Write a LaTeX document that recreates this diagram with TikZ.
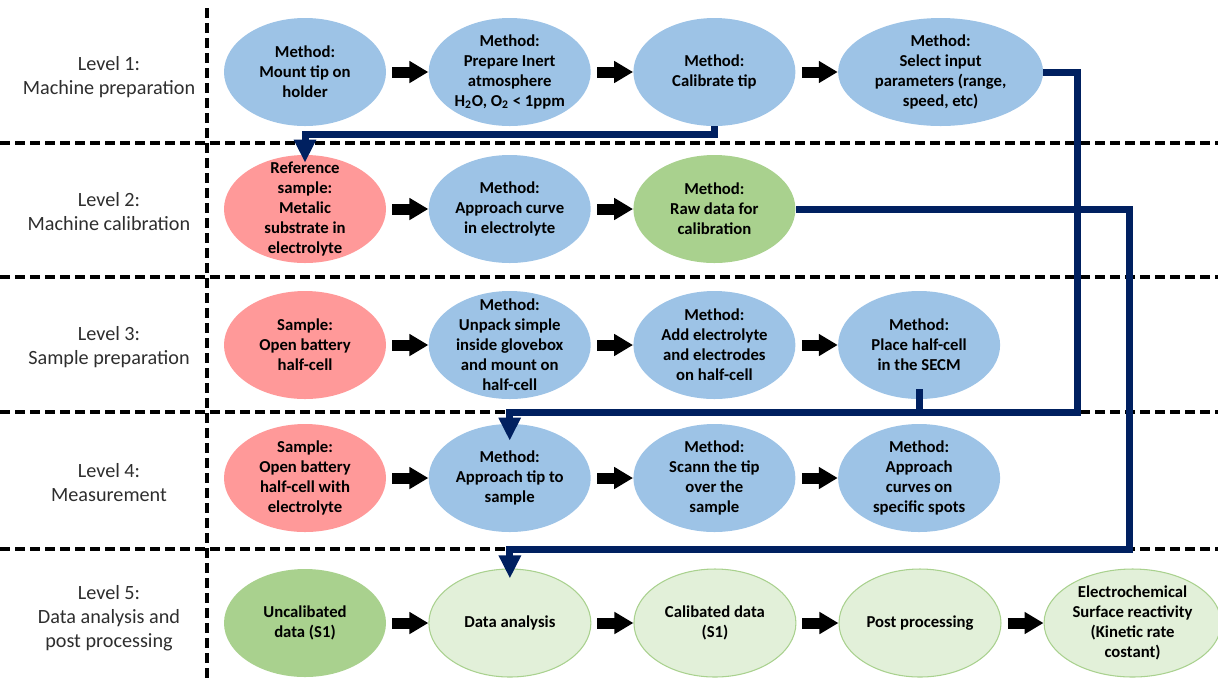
\documentclass[tikz,border=0pt]{standalone}
\usepackage{fontspec}
\setmainfont{Carlito}
\usetikzlibrary{positioning,shapes.geometric,arrows.meta}

\definecolor{methodblue}{HTML}{9DC3E6}
\definecolor{samplered}{HTML}{FF9999}
\definecolor{datagreen}{HTML}{A9D18E}
\definecolor{resultgreen}{HTML}{E2F0D9}
\definecolor{linkblue}{HTML}{002060}

\tikzset{
  stage/.style={ellipse, minimum width=3.24cm, minimum height=2.16cm, inner sep=0pt,
    align=center, font=\bfseries\fontsize{9.5}{11.4}\selectfont},
  method/.style={stage, fill=methodblue},
  sample/.style={stage, fill=samplered},
  rawdata/.style={stage, fill=datagreen},
  result/.style={stage, fill=resultgreen, draw=datagreen, line width=0.6pt},
  level/.style={align=center, text=black!82, font=\fontsize{11.5}{13.7}\selectfont},
  divider/.style={line width=2pt, dash pattern=on 0.2cm off 0.1cm},
  flow/.style={line width=0.22cm, -{Triangle[width=0.42cm,length=0.38cm]}, shorten <=0.12cm},
  link/.style={linkblue, line width=0.14cm, -{Triangle[width=0.42cm,length=0.46cm]}},
}

\begin{document}
\begin{tikzpicture}[node distance=0.84cm]
\useasboundingbox (0,0) rectangle (24.36,-13.64);

% level grid
\foreach \y in {-2.86,-5.54,-8.24,-10.98}
  \draw[divider] (0,\y) -- (24.36,\y);
\draw[divider] (4.14,-0.16) -- (4.14,-13.64);

\node[level] (L1) at (2.18,-1.54) {Level 1:\\Machine preparation};
\node[level] (L2) at (2.18,-4.24) {Level 2:\\Machine calibration};
\node[level] (L3) at (2.18,-6.94) {Level 3:\\Sample preparation};
\node[level] (L4) at (2.18,-9.66) {Level 4:\\Measurement};
\node[level] (L5) at (2.18,-12.36) {Level 5:\\Data analysis and\\post processing};

% level 1
\node[method] (a1) at (6.1,-1.44) {Method:\\Mount tip on\\holder};
\node[method, right=of a1] (a2) {Method:\\Prepare Inert\\atmosphere\\H\textsubscript{2}O, O\textsubscript{2} < 1ppm};
\node[method, right=of a2] (a3) {Method:\\Calibrate tip};
\node[method, right=of a3, minimum width=4.1cm] (a4) {Method:\\Select input\\parameters (range,\\speed, etc)};

% level 2
\node[sample, inner ysep=-6pt] (b1) at (6.1,-4.18) {Reference\\sample:\\Metalic\\substrate in\\electrolyte};
\node[method, right=of b1] (b2) {Method:\\Approach curve\\in electrolyte};
\node[rawdata, right=of b2] (b3) {Method:\\Raw data for\\calibration};

% level 3
\node[sample] (c1) at (6.1,-6.9) {Sample:\\Open battery\\half-cell};
\node[method, right=of c1, inner ysep=-6pt] (c2) {Method:\\Unpack simple\\inside glovebox\\and mount on\\half-cell};
\node[method, right=of c2] (c3) {Method:\\Add electrolyte\\and electrodes\\on half-cell};
\node[method, right=of c3] (c4) {Method:\\Place half-cell\\in the SECM};

% level 4
\node[sample] (d1) at (6.1,-9.56) {Sample:\\Open battery\\half-cell with\\electrolyte};
\node[method, right=of d1] (d2) {Method:\\Approach tip to\\sample};
\node[method, right=of d2] (d3) {Method:\\Scann the tip\\over the\\sample};
\node[method, right=of d3] (d4) {Method:\\Approach\\curves on\\specific spots};

% level 5
\node[rawdata] (e1) at (6.1,-12.46) {Uncalibated\\data (S1)};
\node[result, right=of e1] (e2) {Data analysis};
\node[result, right=of e2] (e3) {Calibated data\\(S1)};
\node[result, right=of e3] (e4) {Post processing};
\node[result, right=of e4, minimum width=3.54cm] (e5) {Electrochemical\\Surface reactivity\\(Kinetic rate\\costant)};

% steps inside each level
\draw[flow] (a1) -- (a2);
\draw[flow] (a2) -- (a3);
\draw[flow] (a3) -- (a4);
\draw[flow] (b1) -- (b2);
\draw[flow] (b2) -- (b3);
\draw[flow] (c1) -- (c2);
\draw[flow] (c2) -- (c3);
\draw[flow] (c3) -- (c4);
\draw[flow] (d1) -- (d2);
\draw[flow] (d2) -- (d3);
\draw[flow] (d3) -- (d4);
\draw[flow] (e1) -- (e2);
\draw[flow] (e2) -- (e3);
\draw[flow] (e3) -- (e4);
\draw[flow] (e4) -- (e5);

% links between levels
\coordinate (bus1) at (21.54,-8.24);
\coordinate (bus2) at (22.58,-10.98);
\draw[link] (a3.south) -- ++(0,-0.16) -| ([yshift=-0.16cm]b1.north);
\draw[link] (a4.east) -| (bus1) -| ([yshift=-0.34cm]d2.north);
\draw[link, -] ([yshift=0.2cm]c4.south) -- (c4.south |- bus1);
\draw[link] (b3.east) -| (bus2) -| ([yshift=-0.2cm]e2.north);
\end{tikzpicture}
\end{document}
